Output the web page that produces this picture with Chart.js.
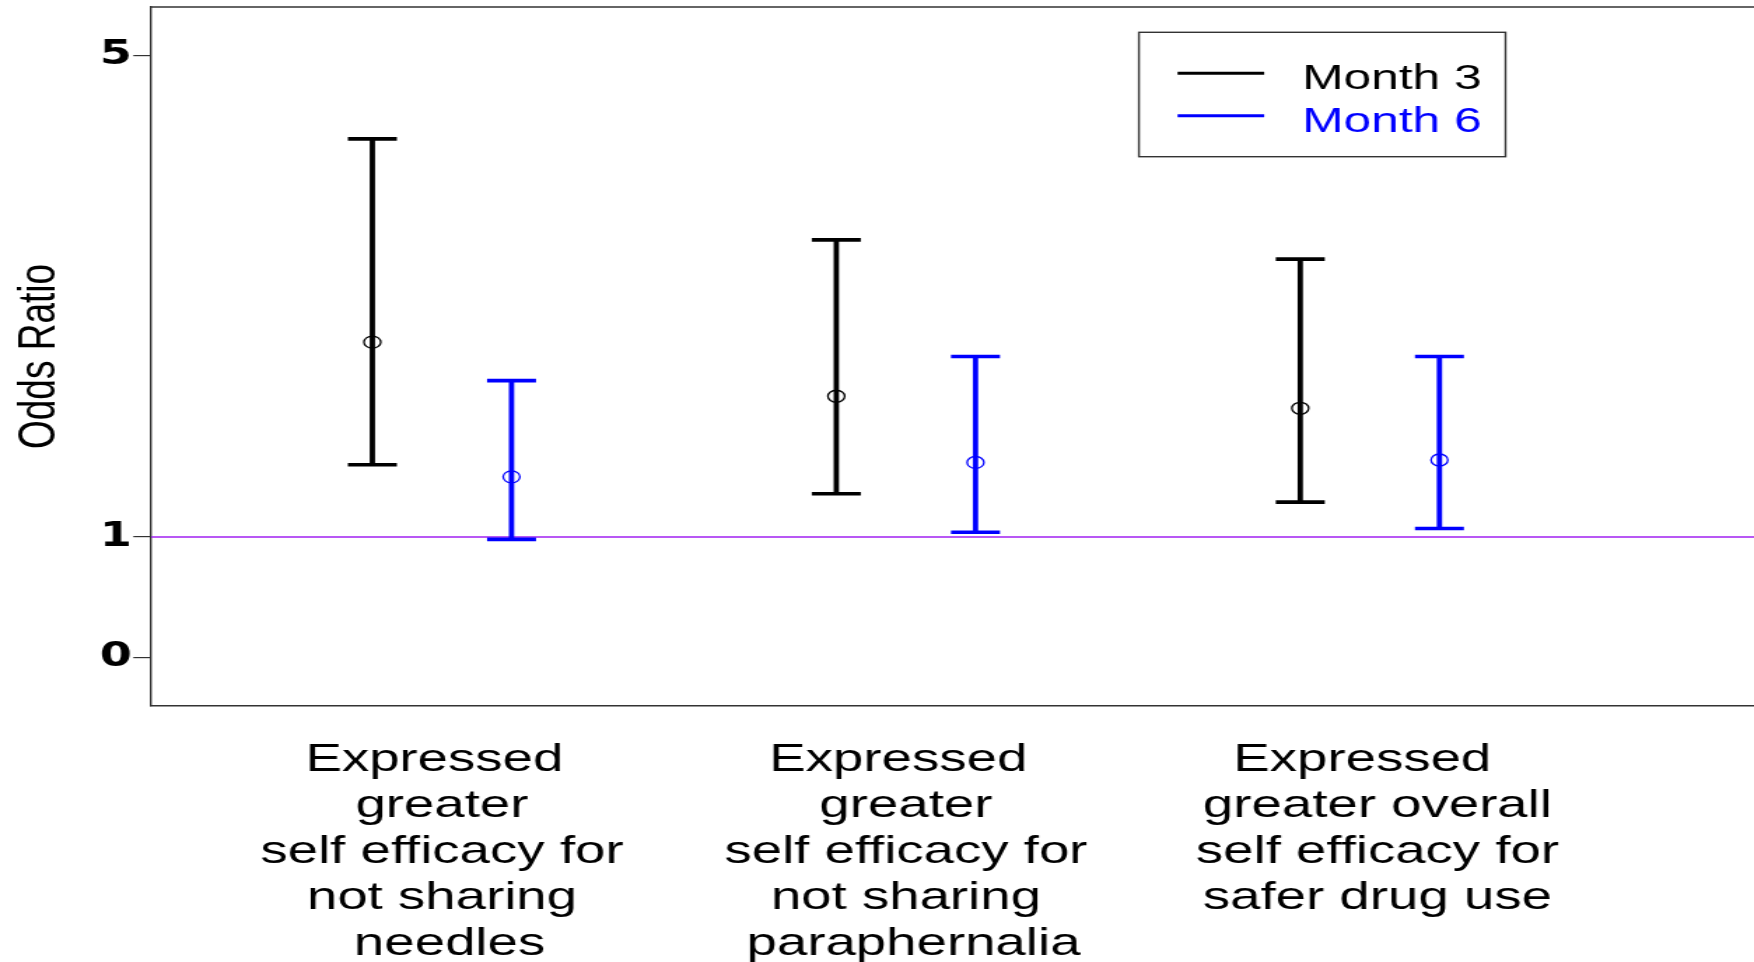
<!DOCTYPE html>
<html>
<head>
<meta charset="utf-8">
<script src="https://cdn.jsdelivr.net/npm/chart.js@4/dist/chart.umd.min.js"></script>
<style>
  html, body { margin: 0; padding: 0; background: #fff; overflow: hidden; }
  /* the plot is drawn on a narrower canvas and widened horizontally */
  #wrap { width: 1253px; height: 962px; transform: scaleX(1.39984); transform-origin: 0 0; }
  canvas { display: block; }
</style>
</head>
<body>
<div id="wrap"><canvas id="chart" width="1253" height="962"></canvas></div>
<script>
// Outcome labels (one array of lines per outcome)
const CATEGORIES = [
  ['Expressed ', 'greater', 'self efficacy for', 'not sharing', ' needles'],
  ['Expressed ', 'greater', 'self efficacy for', 'not sharing', ' paraphernalia'],
  ['Expressed ', ' greater overall', ' self efficacy for', ' safer drug use']
];

// Odds ratios with lower / upper confidence limits
const SERIES_NAMES = ['Month 3', 'Month 6'];
const MONTH3_OR = [2.62, 2.17, 2.07];
const MONTH3_LO = [1.60, 1.36, 1.29];
const MONTH3_HI = [4.31, 3.47, 3.31];
const MONTH6_OR = [1.50, 1.62, 1.64];
const MONTH6_LO = [0.98, 1.04, 1.07];
const MONTH6_HI = [2.30, 2.50, 2.50];

const Y_TICKS = [0, 1, 5];
const REFERENCE_OR = 1;

// axis limits
const Y_MIN = -0.405, Y_MAX = 5.406;
const X_MIN = 0.373, X_MAX = 3.828;

const COLORS = ['#000000', '#0000FF'];
const OFFSETS = [-0.15, 0.15];
const FONT = "'Liberation Sans', Arial, sans-serif";

function whiskerPoints(lo, hi, off) {
  const pts = [];
  lo.forEach((l, i) => {
    const x = i + 1 + off;
    pts.push({ x, y: l }, { x, y: hi[i] }, { x, y: null });
  });
  return pts;
}
function capPoints(lo, hi, off) {
  const pts = [];
  lo.forEach((l, i) => {
    const x = i + 1 + off;
    pts.push({ x, y: l }, { x, y: hi[i] });
  });
  return pts;
}
function estimatePoints(vals, off) {
  return vals.map((v, i) => ({ x: i + 1 + off, y: v }));
}

const seriesData = [
  { or: MONTH3_OR, lo: MONTH3_LO, hi: MONTH3_HI },
  { or: MONTH6_OR, lo: MONTH6_LO, hi: MONTH6_HI }
];

const datasets = [{
  label: 'OR = 1',
  data: [{ x: X_MIN, y: REFERENCE_OR }, { x: X_MAX, y: REFERENCE_OR }],
  borderColor: '#A020F0',
  borderWidth: 1.3,
  pointRadius: 0,
  order: 10
}];

seriesData.forEach((s, k) => {
  const c = COLORS[k], off = OFFSETS[k];
  datasets.push({
    label: SERIES_NAMES[k] + ' interval',
    data: whiskerPoints(s.lo, s.hi, off),
    borderColor: c,
    borderWidth: 3.8,
    pointRadius: 0,
    spanGaps: false,
    order: 2
  });
  datasets.push({
    label: SERIES_NAMES[k] + ' limits',
    data: capPoints(s.lo, s.hi, off),
    showLine: false,
    pointStyle: 'line',
    pointRadius: 17.5,
    pointBorderWidth: 3.6,
    borderColor: c,
    pointBorderColor: c,
    order: 2
  });
  datasets.push({
    label: SERIES_NAMES[k],
    data: estimatePoints(s.or, off),
    showLine: false,
    pointStyle: 'circle',
    pointRadius: 6,
    pointBorderWidth: 1.3,
    pointBorderColor: c,
    pointBackgroundColor: 'rgba(0,0,0,0)',
    borderColor: c,
    order: 0
  });
});

// top frame line of the plotting region
const frameTop = {
  id: 'frameTop',
  afterDraw(chart) {
    const { ctx, chartArea } = chart;
    ctx.save();
    ctx.strokeStyle = '#333';
    ctx.lineWidth = 1.4;
    ctx.beginPath();
    ctx.moveTo(chartArea.left, chartArea.top);
    ctx.lineTo(chart.width, chartArea.top);
    ctx.stroke();
    ctx.restore();
  }
};

// boxed legend in the upper right of the plot
const boxLegend = {
  id: 'boxLegend',
  afterDraw(chart) {
    const { ctx } = chart;
    ctx.save();
    ctx.strokeStyle = '#333';
    ctx.lineWidth = 1.4;
    ctx.strokeRect(813.6, 32.3, 261.9, 124.4);
    SERIES_NAMES.forEach((name, k) => {
      const ly = 73.3 + k * 42.4;
      ctx.strokeStyle = COLORS[k];
      ctx.lineWidth = 3;
      ctx.beginPath();
      ctx.moveTo(841.2, ly);
      ctx.lineTo(903.1, ly);
      ctx.stroke();
      ctx.fillStyle = COLORS[k];
      ctx.font = '35.5px ' + FONT;
      ctx.textAlign = 'left';
      ctx.textBaseline = 'alphabetic';
      ctx.fillText(name, 930.2, 88.8 + k * 43.5);
    });
    ctx.restore();
  }
};

new Chart(document.getElementById('chart'), {
  type: 'line',
  data: { datasets },
  plugins: [frameTop, boxLegend],
  options: {
    responsive: false,
    animation: false,
    events: [],
    layout: { autoPadding: false, padding: { left: 0, right: 0, top: 7, bottom: 0 } },
    plugins: { legend: { display: false }, tooltip: { enabled: false } },
    scales: {
      x: {
        type: 'linear',
        min: X_MIN,
        max: X_MAX,
        afterBuildTicks: (s) => { s.ticks = CATEGORIES.map((_, i) => ({ value: i + 1 })); },
        afterFit: (s) => { s.height = 256; s.paddingLeft = 0; s.paddingRight = 0; },
        ticks: {
          autoSkip: false,
          maxRotation: 0,
          minRotation: 0,
          padding: 31,
          color: '#000',
          font: { family: FONT, size: 39, lineHeight: '46px' },
          callback: (v) => CATEGORIES[Math.round(v) - 1]
        },
        grid: { display: false, drawTicks: false, tickLength: 0 },
        border: { display: true, color: '#333', width: 1.4 }
      },
      y: {
        type: 'linear',
        min: Y_MIN,
        max: Y_MAX,
        afterBuildTicks: (s) => { s.ticks = Y_TICKS.map(v => ({ value: v })); },
        afterFit: (s) => { s.width = 107.9; s.paddingTop = 0; s.paddingBottom = 0; },
        ticks: {
          padding: 1,
          color: '#000',
          font: { family: "'DejaVu Sans', sans-serif", weight: 'bold', size: 33 },
          callback: (v) => String(v)
        },
        grid: { drawOnChartArea: false, drawTicks: true, tickLength: 12.7, color: '#333', lineWidth: 1.2 },
        border: { display: true, color: '#333', width: 1.4 },
        title: {
          display: true,
          text: 'Odds Ratio',
          color: '#000',
          font: { family: FONT, size: 37 },
          padding: { top: 6.5, bottom: 0 }
        }
      }
    }
  }
});
</script>
</body>
</html>
